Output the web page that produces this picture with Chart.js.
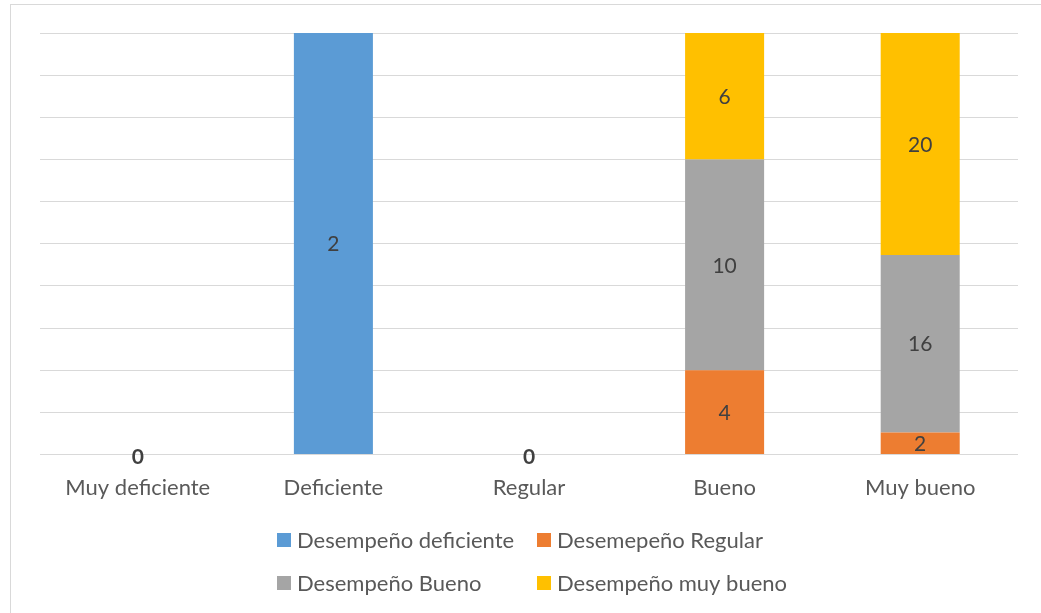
<!DOCTYPE html>
<html>
<head>
<meta charset="utf-8">
<script src="https://cdn.jsdelivr.net/npm/chart.js@4/dist/chart.umd.min.js"></script>
<style>
  html, body { margin: 0; padding: 0; background: #ffffff; }
  #wrap { position: relative; width: 1041px; height: 613px; }
</style>
</head>
<body>
<div id="wrap"><canvas id="c" width="1041" height="613"></canvas></div>
<script>
// Categories of performance level
const categories = ['Muy deficiente', 'Deficiente', 'Regular', 'Bueno', 'Muy bueno'];

// Counts per series
const seriesNames = ['Desempeño deficiente', 'Desemepeño Regular', 'Desempeño Bueno', 'Desempeño muy bueno'];
const desempenoDeficiente = [0, 2, 0, 0, 0];
const desempenoRegular    = [0, 0, 0, 4, 2];
const desempenoBueno      = [0, 0, 0, 10, 16];
const desempenoMuyBueno   = [0, 0, 0, 6, 20];

const seriesColors = ['#5B9BD5', '#ED7D31', '#A5A5A5', '#FFC000'];
const rawSeries = [desempenoDeficiente, desempenoRegular, desempenoBueno, desempenoMuyBueno];

// Share of each count within its category (100% stacked)
const totals = categories.map((_, i) => rawSeries.reduce((s, arr) => s + arr[i], 0));
const pct = rawSeries.map(arr => arr.map((v, i) => totals[i] ? v / totals[i] * 100 : 0));

const FONT = 'Lato, "Open Sans", sans-serif';

const datasets = rawSeries.map((arr, k) => ({
  label: seriesNames[k],
  data: pct[k],
  raw: arr,
  backgroundColor: seriesColors[k],
  borderWidth: 0,
  barPercentage: 1,
  categoryPercentage: 0.404
}));

const decorations = {
  id: 'decorations',
  beforeDraw(chart) {
    const ctx = chart.ctx;
    ctx.save();
    ctx.strokeStyle = '#d9d9d9';
    ctx.lineWidth = 1;
    ctx.strokeRect(10.5, 4.5, 1100, 700);
    ctx.restore();
  },
  afterDatasetsDraw(chart) {
    const ctx = chart.ctx;
    ctx.save();
    ctx.textAlign = 'center';
    ctx.textBaseline = 'middle';
    ctx.fillStyle = '#404040';
    ctx.font = '21px ' + FONT;
    chart.data.datasets.forEach((ds, k) => {
      const meta = chart.getDatasetMeta(k);
      meta.data.forEach((bar, i) => {
        const v = ds.raw[i];
        if (!v) return;
        const yc = (bar.y + bar.base) / 2;
        ctx.fillText(String(v), bar.x, yc + 1);
      });
    });
    // categories with no responses
    const xs = chart.scales.x;
    const ys = chart.scales.y;
    ctx.font = 'bold 21px ' + FONT;
    totals.forEach((t, i) => {
      if (t === 0) ctx.fillText('0', xs.getPixelForValue(i), ys.getPixelForValue(0) + 3);
    });
    ctx.restore();

    // legend in two aligned columns
    ctx.save();
    ctx.font = '22px ' + FONT;
    ctx.textBaseline = 'middle';
    ctx.textAlign = 'left';
    const cols = [277, 537];
    const rows = [540, 583];
    seriesNames.forEach((name, k) => {
      const x = cols[k % 2], y = rows[Math.floor(k / 2)];
      ctx.fillStyle = seriesColors[k];
      ctx.fillRect(x, y - 7, 14, 14);
      ctx.fillStyle = '#595959';
      ctx.fillText(name, x + 20, y + 1);
    });
    ctx.restore();
  }
};

new Chart(document.getElementById('c'), {
  type: 'bar',
  data: { labels: categories, datasets },
  options: {
    responsive: false,
    animation: false,
    devicePixelRatio: 1,
    layout: { padding: { left: 40, right: 23, top: 33, bottom: 92 } },
    plugins: { legend: { display: false }, tooltip: { enabled: false } },
    scales: {
      x: {
        stacked: true,
        grid: { display: false, drawTicks: false },
        border: { display: false },
        ticks: { color: '#595959', font: { family: FONT, size: 22 }, padding: 20, maxRotation: 0 }
      },
      y: {
        stacked: true,
        min: 0, max: 100,
        grid: { color: '#d9d9d9', lineWidth: 1, drawTicks: false },
        border: { display: false },
        ticks: { display: false, stepSize: 10 }
      }
    }
  },
  plugins: [decorations]
});
</script>
</body>
</html>
